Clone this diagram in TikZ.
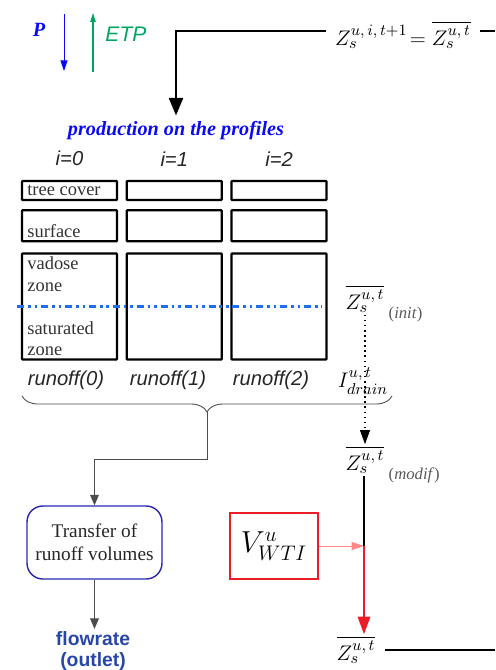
\documentclass[tikz,border=0pt]{standalone}
\usepackage{fontspec}
\setmainfont{Liberation Serif}
\setsansfont{Liberation Sans}
\usepackage{amsmath}
\usetikzlibrary{arrows.meta,positioning,decorations.pathreplacing}
\definecolor{rainblue}{RGB}{10,10,245}
\definecolor{etpgreen}{RGB}{0,165,95}
\definecolor{watertable}{RGB}{30,110,245}
\definecolor{transblue}{RGB}{40,40,175}
\definecolor{flowblue}{RGB}{40,70,170}
\definecolor{wtired}{RGB}{235,30,40}
\definecolor{pinkline}{RGB}{255,135,135}

\begin{document}
\begin{tikzpicture}[x=0.02cm,y=-0.02cm,
    node distance=0.2cm,
    layer/.style={draw,line width=1.3pt,rounded corners=0.4pt,
                  minimum width=1.9cm,inner sep=0pt},
    boxtext/.style={font=\fontsize{10.5}{12}\selectfont,text=black!80,
                    inner xsep=3.5pt,inner ysep=2.5pt,align=left},
    colhead/.style={font=\sffamily\itshape\fontsize{11.5}{13}\selectfont,text=black!85},
    zvar/.style={font=\fontsize{13}{15}\selectfont,inner sep=1pt},
    ztag/.style={font=\fontsize{9.5}{11}\selectfont,text=black!65,inner sep=1pt},
    mainarr/.style={-{Triangle[length=10pt,width=8pt]},line width=1.2pt},
    thinarr/.style={-{Triangle[length=6pt,width=5pt]},black!70,line width=0.5pt},
    runoffbrace/.style={decorate,decoration={brace,mirror,amplitude=0.32cm},
                        black!70,line width=0.5pt}]
  \useasboundingbox (0,0) rectangle (495,670);

  % climate forcing
  \node[font=\bfseries\itshape\fontsize{11.5}{13}\selectfont,text=rainblue] (p) at (39,30) {P};
  \coordinate (ptop) at (64,14);
  \coordinate (pbot) at (64,71);
  \draw[-{Triangle[length=6pt,width=4pt]},rainblue,line width=0.4pt] (ptop) -- (pbot);
  \coordinate (etpbot) at (93,72);
  \coordinate (etptop) at (93,13);
  \draw[-{Triangle[length=5pt,width=3pt]},etpgreen,line width=0.6pt] (etpbot) -- (etptop);
  \node[font=\sffamily\itshape\fontsize{12}{14}\selectfont,text=etpgreen] (etp) at (126,34) {ETP};

  % storage handed to the next step
  \node[zvar,anchor=west] (zeq) at (333,35) {$Z_s^{u,\,i,\,t+1}\!=\overline{Z_s^{u,\,t}}$};
  \node[font=\bfseries\itshape\fontsize{11.5}{13}\selectfont,text=rainblue] (prod) at (176,131)
    {production on the profiles};
  \coordinate (bend) at (176,31);
  \coordinate (eqout) at (495,31);
  \draw[mainarr,shorten <=4pt] (zeq.west |- bend) -- (bend) -- (prod.north);
  \draw[line width=1.2pt,shorten <=4pt] (zeq.east |- eqout) -- (eqout);

  % soil profiles
  \node[layer,minimum height=0.38cm] (tc0) at (69.5,190.5) {};
  \node[layer,minimum height=0.38cm,right=0.15cm of tc0] (tc1) {};
  \node[layer,minimum height=0.38cm,right=0.15cm of tc1] (tc2) {};
  \node[layer,minimum height=0.62cm,below=0.16cm of tc0] (sf0) {};
  \node[layer,minimum height=0.62cm,below=0.16cm of tc1] (sf1) {};
  \node[layer,minimum height=0.62cm,below=0.16cm of tc2] (sf2) {};
  \node[layer,minimum height=2.12cm,below=of sf0] (vz0) {};
  \node[layer,minimum height=2.12cm,below=of sf1] (vz1) {};
  \node[layer,minimum height=2.12cm,below=of sf2] (vz2) {};
  \node[colhead,above=0.15cm of tc0] (h0) {i=0};
  \node[colhead,above=0.15cm of tc1] (h1) {i=1};
  \node[colhead,above=0.15cm of tc2] (h2) {i=2};
  \node[boxtext,anchor=west] (ltc) at (tc0.west) {tree cover};
  \node[boxtext,anchor=south west] (lsf) at (sf0.south west) {surface};
  \node[boxtext,anchor=north west] (lvz) at (vz0.north west) {vadose\\zone};
  \node[boxtext,anchor=south west] (lsz) at (vz0.south west) {saturated\\zone};
  \draw[watertable,line width=1.3pt,
        dash pattern=on 4pt off 2.2pt on 1.5pt off 2.2pt on 1.5pt off 2.2pt]
    ([xshift=-2pt]vz0.west) -- ([xshift=-3pt]vz2.east);
  \node[colhead] (r0) at (66,380) {runoff(0)};
  \node[colhead] (r1) at (168,380) {runoff(1)};
  \node[colhead] (r2) at (271,380) {runoff(2)};

  % water table depth
  \node[zvar] (zinit) at (365,299) {$\overline{Z_s^{u,\,t}}$};
  \node[ztag,anchor=west] at (zinit.south east) {(\textit{init})};
  \node[font=\fontsize{13}{15}\selectfont] (idrain) at (363,381) {$I_{drain}^{u,\,t}$};
  \node[zvar] (zmod) at (365,460) {$\overline{Z_s^{u,\,t}}$};
  \node[ztag,anchor=west] at (zmod.south east) {(\textit{modif})};
  \draw[-{Triangle[length=8pt,width=5.5pt]},dotted,line width=0.9pt] (zinit.south) -- (zmod.north);

  % routing of runoff
  \coordinate (bl) at (22,396);
  \coordinate (br) at (392,396);
  \coordinate (btip) at (207,412);
  \draw[runoffbrace] (bl) -- (br);
  \node[draw=transblue,rounded corners=9pt,line width=0.8pt,minimum width=2.7cm,
        minimum height=1.46cm,align=center,font=\fontsize{11}{13}\selectfont,text=black!85]
    (transfer) at (94.5,542.5) {Transfer of\\runoff volumes};
  \node[font=\sffamily\bfseries\fontsize{11}{12.5}\selectfont,text=flowblue,align=center,
        inner sep=1pt] (flow) at (93,651) {flowrate\\(outlet)};
  \draw[thinarr] (btip) -- ++(0,47) -| (transfer.north);
  \draw[thinarr] (transfer.south) -- (transfer.south |- flow.north);

  % wetland infiltration
  \node[draw=wtired,line width=1.3pt,minimum width=1.76cm,minimum height=1.32cm,
        font=\fontsize{18}{20}\selectfont] (vwti) at (274,546) {$V_{WTI}^{u}$};
  \node[zvar] (zend) at (356,650) {$\overline{Z_s^{u,\,t}}$};
  \coordinate (join) at (364,546);
  \coordinate (endout) at (495,650);
  \draw[line width=1.3pt] (zmod.south -| join) -- (join);
  \draw[-{Triangle[length=10pt,width=7pt]},wtired,line width=1.3pt] (join) -- (join |- zend.north);
  \draw[-{Triangle[length=7pt,width=4.5pt]},pinkline,line width=0.5pt] (vwti.east) -- (join);
  \draw[line width=1.3pt,shorten <=4pt] (zend.east |- endout) -- (endout);
\end{tikzpicture}
\end{document}
